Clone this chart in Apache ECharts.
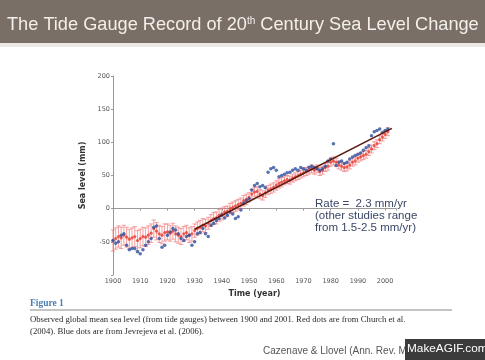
<!DOCTYPE html>
<html><head><meta charset="utf-8">
<script src="https://cdn.jsdelivr.net/npm/echarts@6/dist/echarts.min.js"></script>
<style>html,body{margin:0;padding:0;background:#fff}#c{width:485px;height:360px}</style>
</head><body><div id="c"></div>
<script>
const years = [];
for (let y = 1900; y <= 2001; y++) years.push(y);

const church = [-48,-45,-42,-44,-40,-43,-46,-44,-42,-48,-45,-42,-43,-40,-37,-30,-34,-38,-40,-36,
 -35,-37,-34,-38,-40,-42,-38,-36,-40,-38,-33,-30,-28,-25,-26,-22,-18,-15,-14,-10,
 -8,-5,-4,0,2,4,6,8,12,14,17,22,25,26,22,20,24,28,30,32,
 35,38,40,42,44,43,46,48,50,52,54,56,58,60,58,60,56,58,62,64,
 70,72,70,66,64,62,63,66,70,72,76,78,80,82,86,90,95,98,104,108,
 112,116];
const churchErr = [16,16,16,16,15,15,15,15,15,15,14,14,14,14,14,13,13,13,13,13,
 12,12,12,12,12,12,11,11,11,11,10,10,10,10,10,9,9,9,9,9,
 9,8,8,8,8,8,8,8,8,8,7,7,7,7,7,7,7,7,7,7,
 7,7,7,6,6,6,6,6,6,6,6,6,6,6,6,6,6,6,6,6,
 6,6,6,6,6,6,6,6,6,6,6,6,6,6,6,6,6,6,6,6,
 6,6];
const jevrejeva = [-48,-52,-50,-40,-38,-55,-62,-60,-60,-65,-68,-62,-55,-50,-45,-28,-26,-45,-58,-55,
 -40,-35,-30,-32,-38,-45,-48,-42,-40,-55,-50,-38,-36,-30,-38,-42,-25,-22,-18,-15,
 -10,-14,-10,-5,-8,-15,-12,-2,8,12,15,28,35,38,33,35,32,55,60,62,
 58,48,50,52,54,55,58,60,58,62,60,58,62,64,62,60,58,60,64,72,
 75,98,65,70,72,68,70,75,78,80,82,84,88,92,95,110,116,118,120,115,
 118,120];
const trendYears = [1930, 2002.5];
const trendVals = [-31, 121];
const yTicks = [-50, 0, 50, 100, 150, 200];

const chart = echarts.init(document.getElementById('c'));
const errData = years.map((y, i) => [y, church[i] - churchErr[i], church[i] + churchErr[i]]);

chart.setOption({
  animation: false,
  backgroundColor: '#ffffff',
  grid: {left: 113, right: 89, top: 76, bottom: 85},
  xAxis: {
    type: 'value', min: 1900, max: 2004, interval: 10,
    name: 'Time (year)', nameLocation: 'middle', nameGap: 13,
    nameTextStyle: {fontSize: 8, fontWeight: 'bold', color: '#333', fontFamily: 'DejaVu Sans'},
    axisLine: {lineStyle: {color: '#999', width: 1}},
    axisTick: {length: 2, lineStyle: {color: '#999'}},
    splitLine: {show: false},
    axisLabel: {fontSize: 6.5, color: '#555', margin: 3, fontFamily: 'DejaVu Sans',
      formatter: v => v <= 2000 ? String(v) : ''}
  },
  yAxis: {
    type: 'value', min: -100, max: 200, interval: 50,
    name: 'Sea level (mm)', nameLocation: 'middle', nameGap: 18,
    nameTextStyle: {fontSize: 8, fontWeight: 'bold', color: '#333', fontFamily: 'DejaVu Sans'},
    axisLine: {show: true, lineStyle: {color: '#999', width: 1}},
    axisTick: {show: true, length: 2, lineStyle: {color: '#999'}},
    splitLine: {show: false},
    axisLabel: {fontSize: 6.5, color: '#555', margin: 3, fontFamily: 'DejaVu Sans',
      formatter: v => yTicks.indexOf(v) >= 0 ? String(v) : ''}
  },
  series: [
    {
      type: 'custom', name: 'err', z: 1,
      renderItem: function (params, api) {
        const x = api.value(0);
        const lo = api.coord([x, api.value(1)]);
        const hi = api.coord([x, api.value(2)]);
        const c = 2.2;
        const st = {stroke: 'rgba(240,120,120,0.7)', lineWidth: 1};
        return {type: 'group', children: [
          {type: 'line', shape: {x1: lo[0], y1: lo[1], x2: hi[0], y2: hi[1]}, style: st},
          {type: 'line', shape: {x1: lo[0]-c, y1: lo[1], x2: lo[0]+c, y2: lo[1]}, style: st},
          {type: 'line', shape: {x1: hi[0]-c, y1: hi[1], x2: hi[0]+c, y2: hi[1]}, style: st}
        ]};
      },
      encode: {x: 0, y: [1, 2]},
      data: errData
    },
    {
      type: 'scatter', name: 'Church', z: 3, symbolSize: 3.2,
      itemStyle: {color: '#e8392e'},
      data: years.map((y, i) => [y, church[i]])
    },
    {
      type: 'scatter', name: 'Jevrejeva', z: 4, symbolSize: 3.5,
      itemStyle: {color: '#2d4f9e'},
      data: years.map((y, i) => [y, jevrejeva[i]])
    },
    {
      type: 'line', name: 'trend', z: 5, symbol: 'none',
      lineStyle: {color: '#5a1a10', width: 1.6},
      data: trendYears.map((y, i) => [y, trendVals[i]])
    }
  ],
  graphic: [
    {type: 'rect', left: 0, top: 0, shape: {width: 485, height: 43}, style: {fill: '#7a6f67'}, z: 10},
    {type: 'rect', left: 0, top: 43, shape: {width: 485, height: 4}, style: {fill: '#ece9e5'}, z: 10},
    {type: 'text', left: 7, top: 9, z: 11, style: {
      text: '{a|The Tide Gauge Record of 20}{s|th}{a| Century Sea Level Change}',
      rich: {
        a: {fontSize: 18.2, fill: '#f3efea', fontFamily: 'Liberation Sans', verticalAlign: 'middle', lineHeight: 24, height: 24},
        s: {fontSize: 10, fill: '#f3efea', fontFamily: 'Liberation Sans', verticalAlign: 'middle', lineHeight: 12, height: 24, padding: [0,0,7,0]}
      }
    }},
    {type: 'text', left: 315, top: 198, z: 11, style: {
      text: 'Rate =  2.3 mm/yr\n(other studies range\nfrom 1.5-2.5 mm/yr)',
      fontSize: 11.5, lineHeight: 12, fill: '#3a4868', fontFamily: 'Liberation Sans'
    }},
    {type: 'text', left: 30, top: 299, z: 11, style: {
      text: 'Figure 1', fontSize: 9.5, fontWeight: 'bold', fill: '#4a7db5', fontFamily: 'Liberation Serif'
    }},
    {type: 'line', z: 11, shape: {x1: 30, y1: 310, x2: 452, y2: 310}, style: {stroke: '#8a8a8a', lineWidth: 1}},
    {type: 'text', left: 30, top: 313, z: 11, style: {
      text: 'Observed global mean sea level (from tide gauges) between 1900 and 2001. Red dots are from Church et al.\n(2004). Blue dots are from Jevrejeva et al. (2006).',
      fontSize: 8.7, lineHeight: 12.5, fill: '#2a2a2a', fontFamily: 'Liberation Serif'
    }},
    {type: 'text', left: 263, top: 346, z: 11, style: {
      text: 'Cazenave & Llovel (Ann. Rev. M', fontSize: 10, fill: '#555', fontFamily: 'Liberation Sans'
    }},
    {type: 'rect', left: 405, top: 339, z: 12, shape: {width: 80, height: 21}, style: {fill: '#3b3b3b'}},
    {type: 'text', left: 407, top: 343, z: 13, style: {
      text: 'MakeAGIF.com', fontSize: 11.8, fill: '#ffffff', fontFamily: 'Liberation Sans'
    }}
  ]
});
</script></body></html>
